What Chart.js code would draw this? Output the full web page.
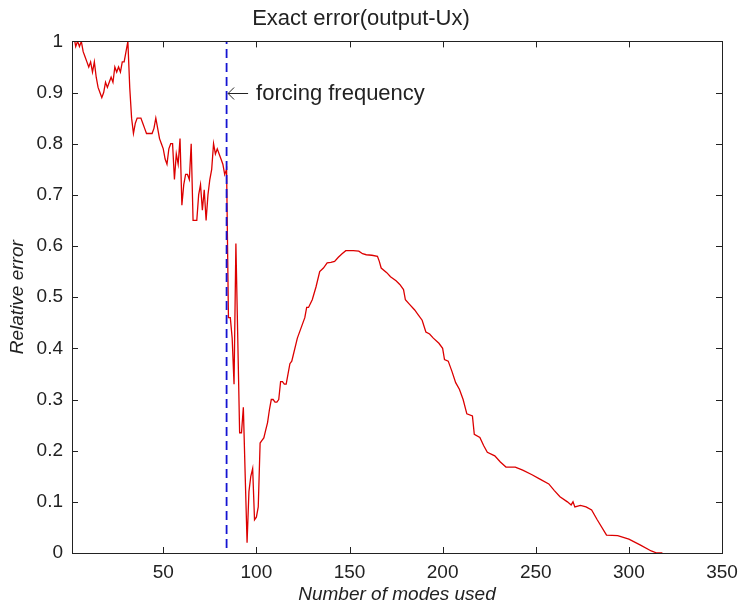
<!DOCTYPE html>
<html>
<head>
<meta charset="utf-8">
<script src="https://cdn.jsdelivr.net/npm/chart.js@4"></script>
<style>
  html, body { margin: 0; padding: 0; background: #fff; }
  #wrap { width: 741px; height: 608px; }
</style>
</head>
<body>
<div id="wrap"><canvas id="errChart" width="741" height="608"></canvas></div>
<script>
// data
const modes = [
  1, 2, 3, 4, 5, 6, 7, 8, 9, 10, 11, 12, 13, 14, 15, 16, 17, 18, 19, 20,
  21, 22, 23, 24, 25, 26, 27, 28, 29, 30, 31, 32, 33, 34, 35, 36, 37, 38, 39, 40,
  41, 42, 43, 44, 45, 46, 47, 48, 49, 50, 51, 52, 53, 54, 55, 56, 57, 58, 59, 60,
  61, 62, 63, 64, 65, 66, 67, 68, 69, 70, 71, 72, 73, 74, 75, 76, 77, 78, 79, 80,
  81, 82, 83, 84, 85, 86, 87, 88, 89, 90, 91, 92, 93, 94, 95, 96, 97, 98, 99, 100,
  101, 102, 103, 104, 105, 106, 107, 108, 109, 110, 111, 112, 113, 114, 115, 116, 117, 118, 119, 120,
  122, 124, 126, 127, 128, 130, 132, 134, 136, 138, 140, 142, 144, 146, 148, 152, 155, 157, 159, 162,
  165, 166, 167, 170, 172, 175, 177, 179, 180, 182, 185, 187, 189, 191, 193, 195, 198, 200, 201, 203,
  205, 207, 209, 211, 213, 216, 217, 220, 222, 224, 228, 231, 234, 239, 243, 248, 252, 257, 260, 263,
  267, 269, 270, 271, 274, 277, 280, 283, 288, 294, 300, 306, 312, 315, 318
];
const errors = [
  1.02, 1.01, 0.99, 1.00, 0.99, 1.00, 0.98, 0.97, 0.96, 0.95, 0.96, 0.94, 0.96, 0.93, 0.91, 0.90, 0.89, 0.90, 0.92, 0.91,
  0.92, 0.93, 0.92, 0.95, 0.94, 0.95, 0.94, 0.96, 0.96, 0.98, 1.00, 0.91, 0.85, 0.82, 0.84, 0.85, 0.85, 0.85, 0.84, 0.83,
  0.82, 0.82, 0.82, 0.82, 0.83, 0.85, 0.83, 0.81, 0.80, 0.79, 0.77, 0.76, 0.79, 0.80, 0.80, 0.73, 0.78, 0.76, 0.81, 0.68,
  0.72, 0.74, 0.74, 0.73, 0.80, 0.65, 0.65, 0.65, 0.70, 0.72, 0.67, 0.71, 0.65, 0.70, 0.73, 0.75, 0.80, 0.78, 0.79, 0.78,
  0.77, 0.76, 0.74, 0.75, 0.46, 0.46, 0.42, 0.33, 0.605, 0.42, 0.235, 0.235, 0.285, 0.15, 0.02, 0.12, 0.15, 0.165, 0.065, 0.07,
  0.09, 0.215, 0.22, 0.225, 0.24, 0.255, 0.28, 0.30, 0.30, 0.295, 0.295, 0.30, 0.335, 0.335, 0.33, 0.33, 0.35, 0.37, 0.375, 0.39,
  0.42, 0.44, 0.46, 0.48, 0.48, 0.495, 0.52, 0.55, 0.557, 0.567, 0.568, 0.57, 0.578, 0.585, 0.591, 0.591, 0.59, 0.585, 0.583, 0.582,
  0.58, 0.57, 0.557, 0.548, 0.54, 0.532, 0.525, 0.515, 0.495, 0.487, 0.475, 0.465, 0.455, 0.432, 0.428, 0.42, 0.41, 0.40, 0.378, 0.375,
  0.355, 0.333, 0.32, 0.30, 0.272, 0.268, 0.232, 0.226, 0.21, 0.197, 0.19, 0.178, 0.168, 0.168, 0.162, 0.153, 0.145, 0.135, 0.122, 0.11,
  0.10, 0.094, 0.10, 0.09, 0.093, 0.09, 0.084, 0.065, 0.035, 0.034, 0.027, 0.016, 0.004, 0.0, 0.0
];
const forcingMode = 84;
const xTicks = [50, 100, 150, 200, 250, 300, 350];
const yTicks = [0, 0.1, 0.2, 0.3, 0.4, 0.5, 0.6, 0.7, 0.8, 0.9, 1];

const FONT = "'Liberation Sans', Arial, sans-serif";

// box round the axes + inward ticks on all four sides, and the arrow note
const matlabAxes = {
  id: 'matlabAxes',
  afterDatasetsDraw(chart) {
    const { ctx, chartArea: a, scales } = chart;
    const xs = scales.x, ys = scales.y;
    const len = 6;
    ctx.save();
    ctx.strokeStyle = '#222';
    ctx.lineWidth = 1;
    ctx.beginPath();
    xTicks.forEach(v => {
      const px = Math.round(xs.getPixelForValue(v)) + 0.5;
      ctx.moveTo(px, a.bottom); ctx.lineTo(px, a.bottom - len);
      ctx.moveTo(px, a.top); ctx.lineTo(px, a.top + len);
    });
    yTicks.forEach(v => {
      const py = Math.round(ys.getPixelForValue(v)) + 0.5;
      ctx.moveTo(a.left, py); ctx.lineTo(a.left + len, py);
      ctx.moveTo(a.right, py); ctx.lineTo(a.right - len, py);
    });
    ctx.stroke();
    ctx.strokeRect(Math.round(a.left) + 0.5, Math.round(a.top) + 0.5,
      Math.round(a.right - a.left), Math.round(a.bottom - a.top));

    // arrow pointing at the forcing line, then the note
    const ax = xs.getPixelForValue(forcingMode) + 1.5;
    const ay = Math.round(ys.getPixelForValue(0.9)) + 0.5;
    ctx.beginPath();
    ctx.moveTo(ax, ay); ctx.lineTo(ax + 20, ay);
    ctx.moveTo(ax + 6, ay - 6); ctx.lineTo(ax, ay); ctx.lineTo(ax + 6, ay + 6);
    ctx.stroke();
    ctx.fillStyle = '#222';
    ctx.font = '22px ' + FONT;
    ctx.textBaseline = 'middle';
    ctx.textAlign = 'left';
    ctx.fillText('forcing frequency', ax + 28, ay);
    ctx.restore();
  }
};

const ctx = document.getElementById('errChart').getContext('2d');
new Chart(ctx, {
  type: 'line',
  data: {
    datasets: [
      {
        label: 'error',
        data: modes.map((m, i) => ({ x: m, y: errors[i] })),
        borderColor: 'rgb(220,0,0)',
        borderWidth: 1.3,
        pointRadius: 0,
        tension: 0,
        fill: false,
        order: 2
      },
      {
        label: 'forcing',
        data: [{ x: forcingMode, y: 0.01 }, { x: forcingMode, y: 1 }],
        borderColor: 'rgb(20,20,210)',
        borderWidth: 1.8,
        borderDash: [9, 5],
        pointRadius: 0,
        fill: false,
        order: 1
      }
    ]
  },
  options: {
    responsive: false,
    animation: false,
    events: [],
    layout: { padding: { top: 0, left: 0, right: 19, bottom: 0 } },
    plugins: {
      legend: { display: false },
      tooltip: { enabled: false },
      title: {
        display: true,
        text: 'Exact error(output-Ux)',
        color: '#222',
        font: { family: FONT, size: 22, weight: 'normal' },
        padding: { top: 6, bottom: 9 }
      }
    },
    scales: {
      x: {
        type: 'linear',
        min: 1,
        max: 350,
        grid: { display: false, drawTicks: false },
        border: { display: false },
        afterBuildTicks: s => { s.ticks = xTicks.map(v => ({ value: v })); },
        afterFit: s => { s.height = 55; s.paddingLeft = 0; s.paddingRight = 0; },
        ticks: {
          color: '#222',
          padding: 8,
          maxRotation: 0,
          font: { family: FONT, size: 19 }
        },
        title: {
          display: true,
          text: 'Number of modes used',
          color: '#222',
          font: { family: FONT, size: 19, style: 'italic' },
          padding: { top: 0, bottom: 2 }
        }
      },
      y: {
        min: 0,
        max: 1,
        grid: { display: false, drawTicks: false },
        border: { display: false },
        afterBuildTicks: s => { s.ticks = yTicks.map(v => ({ value: v })); },
        afterFit: s => { s.width = 72; },
        ticks: {
          color: '#222',
          padding: 9,
          font: { family: FONT, size: 19 },
          callback: v => String(v)
        },
        title: {
          display: true,
          text: 'Relative error',
          color: '#222',
          font: { family: FONT, size: 19, style: 'italic' },
          padding: { top: 6, bottom: 0 }
        }
      }
    }
  },
  plugins: [matlabAxes]
});
</script>
</body>
</html>
